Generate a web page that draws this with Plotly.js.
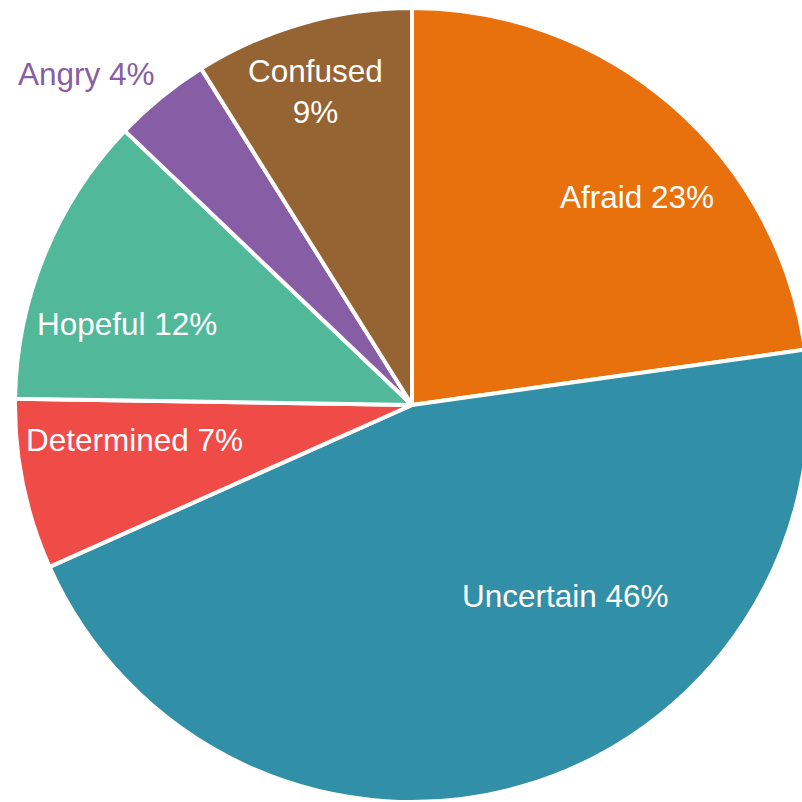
<!DOCTYPE html>
<html>
<head>
<meta charset="utf-8">
<script src="https://cdn.plot.ly/plotly-3.0.1.min.js"></script>
<style>html,body{margin:0;padding:0;overflow:hidden;background:#fff;}#chart{width:812px;height:802px;}</style>
</head>
<body>
<div id="chart"></div>
<script>
const labels = ["Afraid", "Uncertain", "Determined", "Hopeful", "Angry", "Confused"];
const values = [23, 46, 7, 12, 4, 9];
const colors = ["#E8710E", "#328FA8", "#EF4B47", "#52B89A", "#875DA5", "#966432"];

const W = 812, H = 802;
// label placement (pixel centres in the page), layout only
const labelPos = [[637, 197], [565, 596], [134, 440], [127, 324], [86, 74], [315, 92]];
const labelBreak = [false, false, false, false, false, true];
const labelOutside = [false, false, false, false, true, false];
const FONT = "Liberation Sans, Arial, sans-serif";

const annotations = labels.map((l, i) => ({
  xref: "paper", yref: "paper",
  x: labelPos[i][0] / W, y: 1 - labelPos[i][1] / H,
  xanchor: "center", yanchor: "middle",
  showarrow: false,
  text: l + (labelBreak[i] ? "<br>" : " ") + values[i] + "%",
  font: {family: FONT, size: 31.5, color: labelOutside[i] ? colors[i] : "#ffffff"}
}));

Plotly.newPlot("chart", [{
  type: "pie",
  labels: labels,
  values: values,
  sort: false,
  direction: "clockwise",
  rotation: 0,
  marker: {colors: colors, line: {color: "#ffffff", width: 4}},
  textinfo: "none",
  hoverinfo: "none",
  domain: {x: [15 / W, 809 / W], y: [0, 794 / H]}
}], {
  width: W, height: H,
  margin: {l: 0, r: 0, t: 0, b: 0},
  showlegend: false,
  paper_bgcolor: "#ffffff",
  font: {family: FONT},
  annotations: annotations
}, {staticPlot: true});
</script>
</body>
</html>
